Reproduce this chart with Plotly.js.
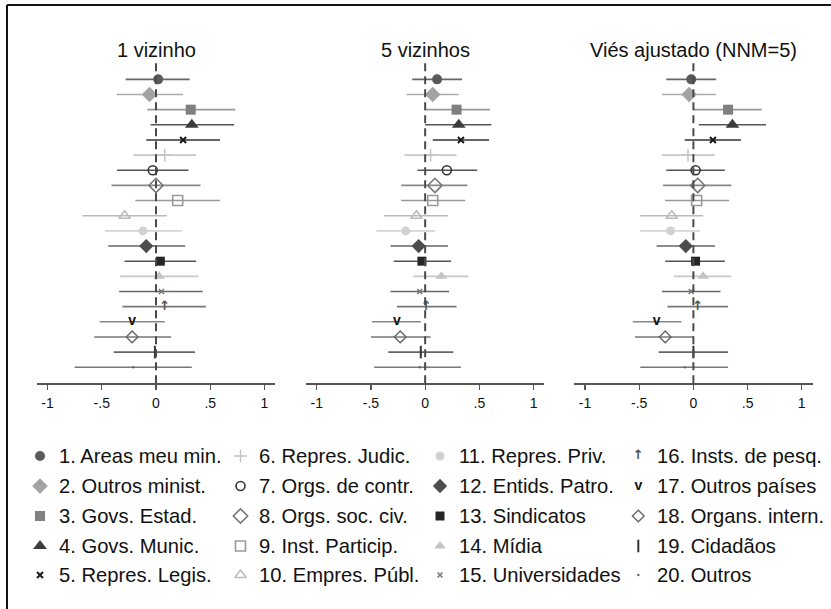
<!DOCTYPE html>
<html><head><meta charset="utf-8">
<script src="https://cdn.plot.ly/plotly-3.0.1.min.js"></script>
<style>html,body{margin:0;padding:0;background:#fff}#chart{width:831px;height:609px}</style>
</head><body><div id="chart"></div>
<script>
// ---------- data ----------
const categories = ["1. Areas meu min.","2. Outros minist.","3. Govs. Estad.","4. Govs. Munic.","5. Repres. Legis.",
  "6. Repres. Judic.","7. Orgs. de contr.","8. Orgs. soc. civ.","9. Inst. Particip.","10. Empres. Públ.",
  "11. Repres. Priv.","12. Entids. Patro.","13. Sindicatos","14. Mídia","15. Universidades",
  "16. Insts. de pesq.","17. Outros países","18. Organs. intern.","19. Cidadãos","20. Outros"];
const panelTitles = ["1 vizinho","5 vizinhos","Viés ajustado (NNM=5)"];

const est1 = [0.02,-0.06,0.32,0.33,0.25,0.08,-0.03,0.00,0.20,-0.29,-0.12,-0.09,0.04,0.03,0.05,0.08,-0.22,-0.22,-0.01,-0.21];
const lo1  = [-0.28,-0.36,-0.08,-0.05,-0.09,-0.21,-0.36,-0.41,-0.19,-0.68,-0.47,-0.44,-0.29,-0.33,-0.34,-0.31,-0.52,-0.57,-0.39,-0.75];
const hi1  = [0.31,0.25,0.73,0.72,0.59,0.37,0.30,0.41,0.59,0.10,0.24,0.27,0.37,0.39,0.43,0.46,0.08,0.14,0.36,0.33];

const est2 = [0.11,0.07,0.29,0.31,0.33,0.05,0.20,0.09,0.07,-0.08,-0.18,-0.06,-0.03,0.15,-0.05,0.01,-0.26,-0.23,-0.04,-0.05];
const lo2  = [-0.12,-0.17,0.00,0.00,0.07,-0.19,-0.07,-0.22,-0.22,-0.38,-0.45,-0.32,-0.29,-0.11,-0.32,-0.26,-0.49,-0.50,-0.34,-0.47];
const hi2  = [0.34,0.31,0.60,0.61,0.59,0.29,0.48,0.39,0.37,0.21,0.09,0.21,0.24,0.40,0.22,0.29,-0.04,0.05,0.26,0.33];

const est3 = [-0.02,-0.04,0.32,0.36,0.18,-0.05,0.02,0.04,0.03,-0.20,-0.21,-0.07,0.02,0.09,-0.02,0.04,-0.34,-0.26,0.00,-0.08];
const lo3  = [-0.25,-0.29,0.00,0.05,-0.08,-0.29,-0.25,-0.28,-0.26,-0.49,-0.49,-0.34,-0.26,-0.18,-0.29,-0.24,-0.56,-0.54,-0.32,-0.49];
const hi3  = [0.21,0.21,0.63,0.67,0.44,0.20,0.29,0.35,0.33,0.09,0.06,0.20,0.29,0.35,0.25,0.32,-0.11,0.00,0.32,0.32];

const tickVals = [-1,-0.5,0,0.5,1];
const tickText = ["-1","-.5","0",".5","1"];

// ---------- styles ----------
const W = 831, H = 609;
const FONT = "Liberation Sans, Arial, sans-serif";
const styles = [
  {symbol:'circle', color:'#5a5a5a', size:10, ci:'#666666'},
  {symbol:'diamond', color:'#a3a3a3', size:12, ci:'#aaaaaa'},
  {symbol:'square', color:'#808080', size:10, ci:'#999999'},
  {symbol:'triangle-up', color:'#3c3c3c', size:12, ci:'#555555'},
  {symbol:'x-thin', color:'#1a1a1a', size:6, lw:2, ci:'#333333'},
  {symbol:'cross-thin', color:'#c4c4c4', size:9, lw:1.5, ci:'#c8c8c8'},
  {symbol:'circle-open', color:'#333333', size:9, lw:1.6, ci:'#555555'},
  {symbol:'diamond-open', color:'#777777', size:11, lw:1.6, ci:'#888888'},
  {symbol:'square-open', color:'#999999', size:10, lw:1.6, ci:'#999999'},
  {symbol:'triangle-up-open', color:'#bbbbbb', size:10, lw:1.6, ci:'#bbbbbb'},
  {symbol:'circle', color:'#d2d2d2', size:9, ci:'#d4d4d4'},
  {symbol:'diamond', color:'#4d4d4d', size:11, ci:'#666666'},
  {symbol:'square', color:'#262626', size:9, ci:'#555555'},
  {symbol:'triangle-up', color:'#c4c4c4', size:10, ci:'#c8c8c8'},
  {symbol:'x-thin', color:'#777777', size:5, lw:1.6, ci:'#666666'},
  {text:'↑', color:'#555555', fsize:13, bold:true, family:'DejaVu Sans', ci:'#777777'},
  {text:'v', color:'#111111', fsize:14, bold:true, ci:'#888888'},
  {symbol:'diamond-open', color:'#666666', size:9, lw:1.4, ci:'#777777'},
  {symbol:'line-ns', color:'#333333', size:9, lw:2, ci:'#666666'},
  {symbol:'circle', color:'#666666', size:2.5, ci:'#777777'}
];

function markerPart(s) {
  if (s.text) {
    return {mode:'markers+text', text:[s.text], textposition:'middle center',
      textfont:{family:s.family || FONT, size:s.fsize, color:s.color, weight: s.bold ? 700 : 400},
      marker:{size:1, color:'rgba(0,0,0,0)'}};
  }
  const m = {symbol:s.symbol, color:s.color, size:s.size};
  if (s.lw) m.line = {width:s.lw, color:s.color}; else m.line = {width:0};
  return {mode:'markers', marker:m};
}

const panels = [[est1,lo1,hi1],[est2,lo2,hi2],[est3,lo3,hi3]];
const xDomPx = [[36.7,275.3],[305.9,544.4],[574.2,812.6]];
const yDom = [1-383.3/H, 1-63/H];

const traces = [];
panels.forEach((p, pi) => {
  const [est, lo, hi] = p;
  const xa = pi === 0 ? 'x' : 'x' + (pi+1);
  const ya = pi === 0 ? 'y' : 'y' + (pi+1);
  categories.forEach((c, i) => {
    const s = styles[i];
    traces.push(Object.assign({
      type:'scatter', x:[est[i]], y:[i+1], xaxis:xa, yaxis:ya, showlegend:false, hoverinfo:'skip',
      cliponaxis:false,
      error_x:{type:'data', symmetric:false, array:[hi[i]-est[i]], arrayminus:[est[i]-lo[i]],
               color:s.ci, thickness:1.6, width:0}
    }, markerPart(s)));
  });
});

// legend (drawn on a hidden pixel-scaled axis pair)
const legMarkX = [40, 240.5, 440, 638.3];
const legTextX = [56.5, 256.5, 456.5, 654.5];
const legRowY  = [456, 486, 516, 546, 575];
const annotations = [];
categories.forEach((c, i) => {
  const col = Math.floor(i/5), row = i % 5;
  const s = styles[i];
  traces.push(Object.assign({type:'scatter', x:[legMarkX[col]], y:[legRowY[row]], xaxis:'x4', yaxis:'y4',
    showlegend:false, hoverinfo:'skip', cliponaxis:false}, markerPart(s)));
  annotations.push({xref:'x4', yref:'y4', x:legTextX[col], y:legRowY[row], xanchor:'left', yanchor:'middle',
    text:c, showarrow:false, font:{family:FONT, size:20.2, color:'#111'}});
});

panelTitles.forEach((t, pi) => {
  const cx = (xDomPx[pi][0] + xDomPx[pi][1]) / 2;
  annotations.push({xref:'paper', yref:'paper', x:cx/W, y:1-50.5/H, xanchor:'center', yanchor:'middle',
    text:t, showarrow:false, font:{family:FONT, size:20, color:'#111'}});
});

const shapes = [];
[['x','y'],['x2','y2'],['x3','y3']].forEach(([xa, ya]) => {
  shapes.push({type:'line', xref:xa, yref:ya + ' domain', x0:0, x1:0, y0:0, y1:1,
    line:{color:'#4a4a4a', width:2, dash:'8px,5px'}, layer:'above'});
});
// outer frame (left and top)
shapes.push({type:'line', xref:'paper', yref:'paper', x0:7/W, x1:7/W, y0:0, y1:1-5/H, line:{color:'#111', width:2}});
shapes.push({type:'line', xref:'paper', yref:'paper', x0:7/W, x1:1, y0:1-5/H, y1:1-5/H, line:{color:'#111', width:2}});

function xAxis(pi) {
  return {domain:[xDomPx[pi][0]/W, xDomPx[pi][1]/W], range:[-1.1,1.1], anchor: pi===0?'y':'y'+(pi+1),
    tickvals:tickVals, ticktext:tickText, ticks:'outside', ticklen:5, tickwidth:1.3, tickcolor:'#555',
    showline:true, linecolor:'#555', linewidth:1.3, showgrid:false, zeroline:false, fixedrange:true,
    ticklabelstandoff:2, tickfont:{family:FONT, size:14, color:'#111'}};
}
function yAxis(pi) {
  return {domain:yDom, range:[21.06,-0.08], visible:false, fixedrange:true, anchor: pi===0?'x':'x'+(pi+1)};
}

const layout = {
  width:W, height:H, margin:{l:0,r:0,t:0,b:0}, paper_bgcolor:'#fff', plot_bgcolor:'rgba(0,0,0,0)',
  showlegend:false,
  xaxis:xAxis(0), yaxis:yAxis(0), xaxis2:xAxis(1), yaxis2:yAxis(1), xaxis3:xAxis(2), yaxis3:yAxis(2),
  xaxis4:{domain:[0,1], range:[0,W], visible:false, fixedrange:true, anchor:'y4'},
  yaxis4:{domain:[0,1], range:[H,0], visible:false, fixedrange:true, anchor:'x4'},
  annotations:annotations, shapes:shapes
};

Plotly.newPlot('chart', traces, layout, {staticPlot:true, displayModeBar:false});
</script></body></html>
